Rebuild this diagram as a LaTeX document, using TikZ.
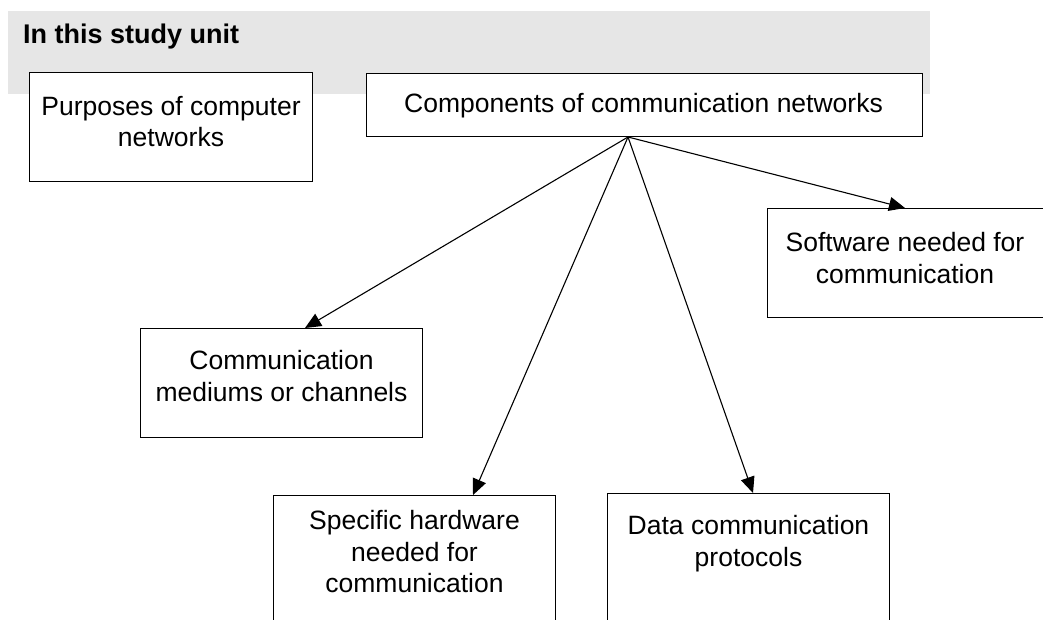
\documentclass[tikz,border=0pt]{standalone}
\usepackage{fontspec}
\setmainfont{Liberation Sans}
\usetikzlibrary{arrows.meta,calc}
\definecolor{bandgray}{RGB}{230,230,230}
\tikzset{
  box/.style={draw=black, line width=1pt, fill=white, inner sep=0pt, anchor=north west, minimum width=282pt, minimum height=109pt},
  lbl/.style={font=\fontsize{26.5}{31.5}\selectfont, align=center, inner sep=0pt, anchor=north},
  arr/.style={line width=1.1pt, -{Triangle[length=16pt,width=14pt]}}
}
\begin{document}
\begin{tikzpicture}[x=1pt,y=-1pt]
\useasboundingbox (0,0) rectangle (1043,619);
\clip (0,0) rectangle (1043,619);
% header band
\fill[bandgray] (8,11) rectangle (930,94);
\node[anchor=base west, inner sep=0pt, font=\fontsize{27}{31.5}\selectfont\bfseries] (title) at (23,43) {In this study unit};
% boxes
\node[box, minimum width=283pt] (purp) at (29,72) {};
\node[box, minimum width=556pt, minimum height=63pt] (comp) at (366,73) {};
\node[box, minimum width=283pt] (soft) at (767,208) {};
\node[box] (med) at (140,328) {};
\node[box, minimum height=160pt] (hw) at (273,495) {};
\node[box, minimum height=160pt] (data) at (607,493) {};
% labels
\node[lbl] (purpT) at ($(purp.north)+(0,43.5-19.5)$) {Purposes of computer\\networks};
\node[lbl] (compT) at ($(comp.north)+(-1,40-19.5)$) {Components of communication networks};
\node[lbl] (softT) at ($(soft.north west)+(138,44-19.5)$) {Software needed for\\communication};
\node[lbl] (medT) at ($(med.north)+(0,42-19.5)$) {Communication\\mediums or channels};
\node[lbl] (hwT) at ($(hw.north)+(0,35-19.5)$) {Specific hardware\\needed for\\communication};
\node[lbl] (dataT) at ($(data.north)+(0,42-19.5)$) {Data communication\\protocols};
% connectors
\coordinate (o) at ($(comp.south west)+(262,0)$);
\draw[arr] (o) -- ($(med.north west)+(165,0)$);
\draw[arr] (o) -- ($(hw.north west)+(200,0)$);
\draw[arr] (o) -- ($(data.north west)+(146,0)$);
\draw[arr] (o) -- ($(soft.north west)+(138,0)$);
\end{tikzpicture}
\end{document}
